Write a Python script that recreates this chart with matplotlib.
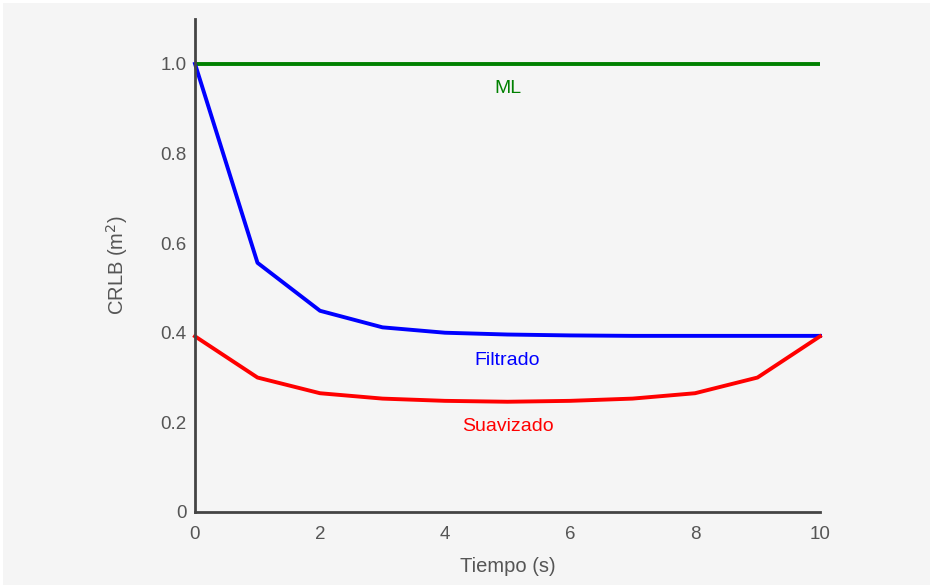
import matplotlib
matplotlib.use("Agg")
import matplotlib.pyplot as plt

plt.rcParams['font.family'] = ['Liberation Sans', 'DejaVu Sans']

tiempo = [0, 1, 2, 3, 4, 5, 6, 7, 8, 9, 10]
ml = [1.0] * 11
filtrado = [1.0, 0.556, 0.449, 0.412, 0.400, 0.396, 0.394, 0.393, 0.393, 0.393, 0.393]
suavizado = [0.392, 0.300, 0.265, 0.253, 0.248, 0.246, 0.248, 0.253, 0.265, 0.300, 0.392]

xticks = [0, 2, 4, 6, 8, 10]
xticklabels = ['0', '2', '4', '6', '8', '10']
yticks = [0, 0.2, 0.4, 0.6, 0.8, 1.0]
yticklabels = ['0', '0.2', '0.4', '0.6', '0.8', '1.0']

bg = '#f5f5f5'
fig = plt.figure(figsize=(9.32, 5.87), dpi=100, facecolor=bg)
fig.patch.set_edgecolor('white')
fig.patch.set_linewidth(2.5)
ax = fig.add_axes([195/932, 1 - 512/587, 625/932, (512-19)/587])
ax.set_facecolor(bg)

ax.plot(tiempo, ml, color='#008000', lw=2.8, solid_capstyle='butt', clip_on=False)
ax.plot(tiempo, filtrado, color='#0000ff', lw=2.8, clip_on=False)
ax.plot(tiempo, suavizado, color='#ff0000', lw=2.8, clip_on=False)

ax.text(5, 0.944, 'ML', color='#008000', ha='center', va='center', fontsize=14)
ax.text(5, 0.338, 'Filtrado', color='#0000ff', ha='center', va='center', fontsize=14)
ax.text(5, 0.191, 'Suavizado', color='#ff0000', ha='center', va='center', fontsize=14)

ax.set_xlim(0, 10)
ax.set_ylim(0, 1.1)
ax.set_xticks(xticks)
ax.set_xticklabels(xticklabels)
ax.set_yticks(yticks)
ax.set_yticklabels(yticklabels)
ax.tick_params(length=0, labelsize=13.5, colors='#555555', pad=6)
ax.tick_params(axis='x', pad=10)
for s in ['top', 'right']:
    ax.spines[s].set_visible(False)
for s in ['left', 'bottom']:
    ax.spines[s].set_color('#444444')
    ax.spines[s].set_linewidth(2)

ax.set_xlabel('Tiempo (s)', fontsize=14.5, color='#555555', labelpad=10)
ax.set_ylabel('CRLB (m$^2$)', fontsize=14.5, color='#555555', labelpad=22)

fig.savefig('out.png', dpi=100, facecolor=bg, edgecolor='white')
